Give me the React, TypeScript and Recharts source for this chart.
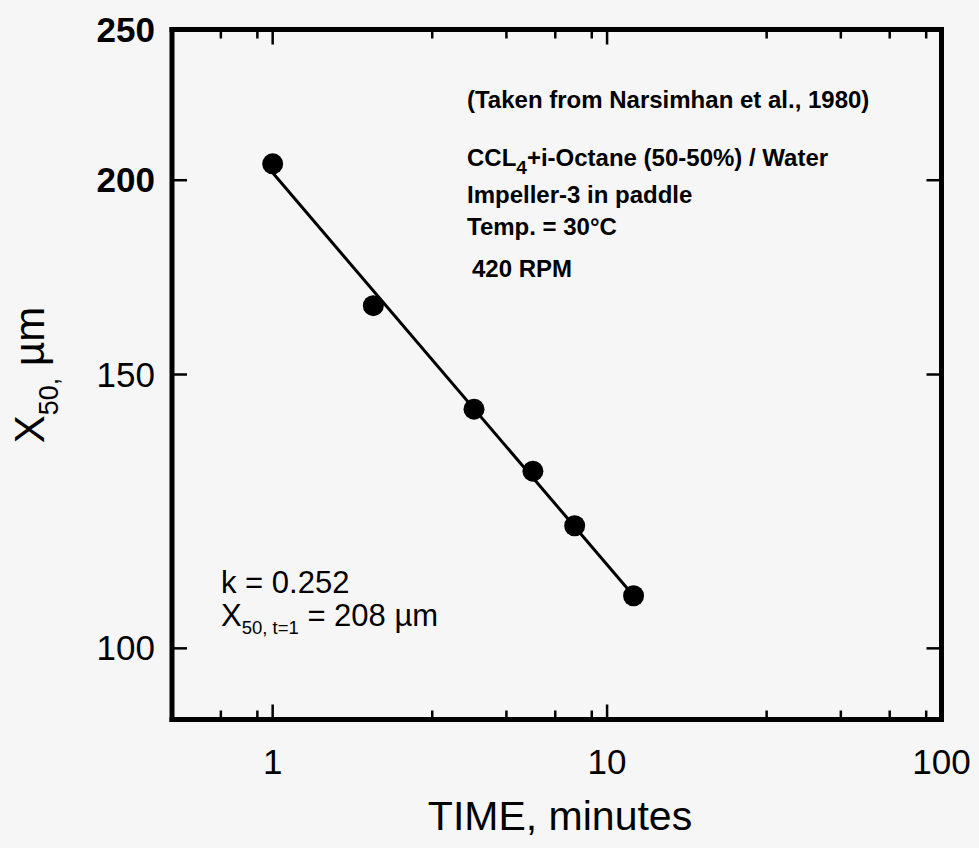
import React from 'react';
import { ComposedChart, XAxis, YAxis, Scatter, Line } from 'recharts';

// Measured drop size X50 (µm) against stirring time (minutes)
const TIME_MIN = [1, 2, 4, 6, 8, 12];
const X50_UM = [204.9, 166.1, 142.5, 130.0, 119.9, 108.1];

// Power-law fit line end points (log-log straight line, slope -k)
const FIT_TIME = [1, 12];
const FIT_X50 = [202.2, 108.1];

// Axis ticks
const X_MAJOR = [1, 10, 100];
const X_MINOR = [0.7, 0.9, 3, 5, 7, 9, 30, 50, 70, 90];
const Y_TICKS = [100, 150, 200, 250];
const X_DOMAIN = [0.5, 100];
const Y_DOMAIN = [90, 250];

// Annotation text
const SOURCE_NOTE = '(Taken from Narsimhan et al., 1980)';
const SYSTEM_MAIN = 'CCL';
const SYSTEM_SUB = '4';
const SYSTEM_REST = '+i-Octane (50-50%) / Water';
const IMPELLER_NOTE = 'Impeller-3 in paddle';
const TEMP_NOTE = 'Temp. = 30°C';
const RPM_NOTE = '420 RPM';
const K_NOTE = 'k = 0.252';
const X50_T1_SUB = '50, t=1';
const X50_T1_VALUE = ' = 208 µm';

const points = TIME_MIN.map((t, i) => ({ t, x50: X50_UM[i] }));
const fit = FIT_TIME.map((t, i) => ({ t, x50: FIT_X50[i] }));
const xTicks = [...X_MINOR, ...X_MAJOR].sort((a, b) => a - b);

const W = 979;
const H = 848;
const MARGIN = { top: 28.5, right: 36.5, bottom: 0, left: 0 };
const Y_AXIS_W = 172;
const X_AXIS_H = 128.5;
const FRAME_AXIS_SIZE = 1;
const FONT = '"Liberation Sans", Arial, Helvetica, sans-serif';
const TICK_FONT = 35;
const MAJOR_LEN = 15;
const MINOR_LEN = 9;
const TICK_W = 2.5;
const BOLD_Y_LABELS = new Set([200, 250]);

const frameLine = { stroke: '#000', strokeWidth: 5, strokeLinecap: 'square' as const };

function BottomTick(props: any) {
  const { x, y, payload } = props;
  const major = X_MAJOR.includes(payload.value);
  return (
    <g>
      <line x1={x} y1={y} x2={x} y2={y - (major ? MAJOR_LEN : MINOR_LEN)} stroke="#000" strokeWidth={TICK_W} />
      {major && (
        <text x={x} y={y + 54} textAnchor="middle" fontSize={TICK_FONT} fontFamily={FONT} fill="#000">
          {payload.value}
        </text>
      )}
    </g>
  );
}

function TopTick(props: any) {
  const { x, y, payload } = props;
  const major = X_MAJOR.includes(payload.value);
  return (
    <line x1={x} y1={y} x2={x} y2={y + (major ? MAJOR_LEN : MINOR_LEN)} stroke="#000" strokeWidth={TICK_W} />
  );
}

function LeftTick(props: any) {
  const { x, y, payload } = props;
  return (
    <g>
      <line x1={x} y1={y} x2={x + MAJOR_LEN} y2={y} stroke="#000" strokeWidth={TICK_W} />
      <text
        x={x - 17}
        y={y + 12}
        textAnchor="end"
        fontSize={TICK_FONT}
        fontWeight={BOLD_Y_LABELS.has(payload.value) ? 'bold' : 'normal'}
        fontFamily={FONT}
        fill="#000"
      >
        {payload.value}
      </text>
    </g>
  );
}

function RightTick(props: any) {
  const { x, y } = props;
  return <line x1={x} y1={y} x2={x - MAJOR_LEN} y2={y} stroke="#000" strokeWidth={TICK_W} />;
}

function XTitle() {
  return (
    <text x={560} y={830} textAnchor="middle" fontSize={41} fontFamily={FONT} fill="#000">
      TIME, minutes
    </text>
  );
}

function YTitle() {
  const cx = 44;
  const cy = 375;
  return (
    <text
      x={cx}
      y={cy}
      transform={`rotate(-90 ${cx} ${cy})`}
      textAnchor="middle"
      fontSize={42}
      fontFamily={FONT}
      fill="#000"
    >
      X
      <tspan fontSize={27} dy={14}>50,</tspan>
      <tspan dy={-14}> µm</tspan>
    </text>
  );
}

function Dot(props: any) {
  const { cx, cy } = props;
  return <circle cx={cx} cy={cy} r={10.5} fill="#000" />;
}

function NoShape() {
  return <g />;
}

export default function App() {
  return (
    <div
      style={{
        position: 'absolute',
        left: 0,
        top: 0,
        width: W,
        height: H,
        background: '#f6f6f6',
        fontFamily: FONT,
      }}
    >
      <ComposedChart width={W} height={H} margin={MARGIN}>
        <XAxis
          xAxisId="x"
          dataKey="t"
          type="number"
          scale="log"
          domain={X_DOMAIN}
          allowDataOverflow
          ticks={xTicks}
          interval={0}
          height={X_AXIS_H}
          axisLine={frameLine}
          tickLine={false}
          tickSize={0}
          tickMargin={0}
          tick={<BottomTick />}
          label={<XTitle />}
        />
        <XAxis
          xAxisId="xt"
          orientation="top"
          dataKey="t"
          type="number"
          scale="log"
          domain={X_DOMAIN}
          allowDataOverflow
          ticks={xTicks}
          interval={0}
          height={FRAME_AXIS_SIZE}
          axisLine={frameLine}
          tickLine={false}
          tickSize={0}
          tickMargin={0}
          tick={<TopTick />}
        />
        <YAxis
          yAxisId="y"
          dataKey="x50"
          type="number"
          scale="log"
          domain={Y_DOMAIN}
          allowDataOverflow
          ticks={Y_TICKS}
          interval={0}
          width={Y_AXIS_W}
          axisLine={frameLine}
          tickLine={false}
          tickSize={0}
          tickMargin={0}
          tick={<LeftTick />}
          label={<YTitle />}
        />
        <YAxis
          yAxisId="yr"
          orientation="right"
          dataKey="x50"
          type="number"
          scale="log"
          domain={Y_DOMAIN}
          allowDataOverflow
          ticks={Y_TICKS}
          interval={0}
          width={FRAME_AXIS_SIZE}
          axisLine={frameLine}
          tickLine={false}
          tickSize={0}
          tickMargin={0}
          tick={<RightTick />}
        />
        {/* invisible series so the mirrored top/right frame axes are active */}
        <Scatter
          xAxisId="xt"
          yAxisId="yr"
          data={points}
          dataKey="x50"
          shape={<NoShape />}
          isAnimationActive={false}
        />
        <Line
          xAxisId="x"
          yAxisId="y"
          data={fit}
          dataKey="x50"
          type="linear"
          stroke="#000"
          strokeWidth={3}
          dot={false}
          activeDot={false}
          isAnimationActive={false}
        />
        <Scatter
          xAxisId="x"
          yAxisId="y"
          data={points}
          dataKey="x50"
          fill="#000"
          shape={<Dot />}
          isAnimationActive={false}
        />
      </ComposedChart>
      <svg
        width={W}
        height={H}
        style={{ position: 'absolute', left: 0, top: 0, pointerEvents: 'none' }}
        fontFamily={FONT}
        fill="#000"
      >
        <g fontWeight="bold" fontSize={24}>
          <text x={467} y={108.3}>{SOURCE_NOTE}</text>
          <text x={467} y={166}>
            {SYSTEM_MAIN}
            <tspan fontSize={19} dy={8}>{SYSTEM_SUB}</tspan>
            <tspan dy={-8}>{SYSTEM_REST}</tspan>
          </text>
          <text x={467} y={203}>{IMPELLER_NOTE}</text>
          <text x={467} y={235}>{TEMP_NOTE}</text>
          <text x={472} y={276.7}>{RPM_NOTE}</text>
        </g>
        <g fontSize={31}>
          <text x={221} y={593}>{K_NOTE}</text>
          <text x={221} y={626}>
            X
            <tspan fontSize={18.5} dy={8}>{X50_T1_SUB}</tspan>
            <tspan dy={-8}>{X50_T1_VALUE}</tspan>
          </text>
        </g>
      </svg>
    </div>
  );
}
